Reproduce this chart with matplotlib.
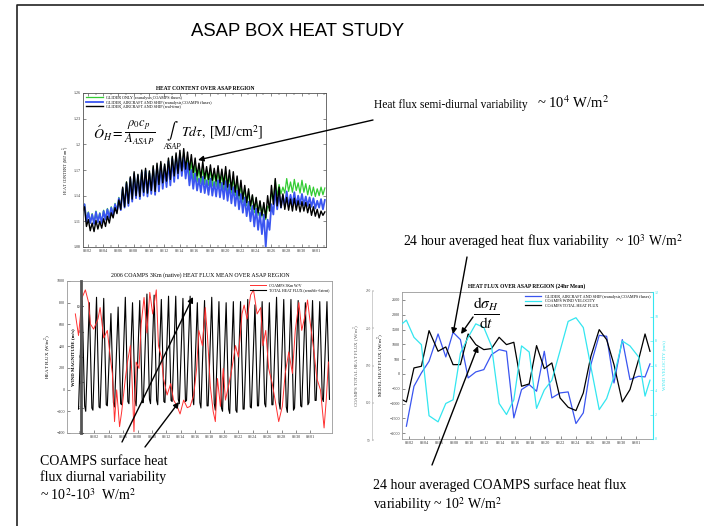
import numpy as np
import matplotlib.pyplot as plt

plt.rcParams['font.family'] = ['Liberation Serif', 'DejaVu Serif']
plt.rcParams['mathtext.fontset'] = 'stix'

W, H = 704, 526  # figure size in pixels

# shared date axis (day of August; 32 = 09/01)
tick_days = [2, 4, 6, 8, 10, 12, 14, 16, 18, 20, 22, 24, 26, 28, 30, 32]
tick_labels = ['08/02', '08/04', '08/06', '08/08', '08/10', '08/12', '08/14', '08/16',
               '08/18', '08/20', '08/22', '08/24', '08/26', '08/28', '08/30', '09/01']

# ---- heat content (MJ/cm2), semi-diurnal troughs and peaks ----
hc_trough_days = np.arange(64) * 0.5 + 1.3
hc_peak_days = hc_trough_days + 0.25
black_troughs = [1.122, 1.104, 1.099, 1.098, 1.101, 1.102, 1.104, 1.108, 1.114, 1.119,
                 1.124, 1.127, 1.131, 1.136, 1.140, 1.139, 1.144, 1.143, 1.146, 1.145,
                 1.153, 1.155, 1.157, 1.159, 1.163, 1.166, 1.169, 1.171, 1.170, 1.167,
                 1.163, 1.161, 1.160, 1.159, 1.158, 1.157, 1.155, 1.153, 1.150, 1.147,
                 1.144, 1.140, 1.136, 1.132, 1.128, 1.124, 1.120, 1.117, 1.114, 1.122,
                 1.130, 1.128, 1.126, 1.124, 1.123, 1.122, 1.123, 1.121, 1.122, 1.120,
                 1.117, 1.116, 1.114, 1.117]
black_peaks = [1.127, 1.112, 1.108, 1.111, 1.110, 1.113, 1.116, 1.120, 1.126, 1.135,
               1.150, 1.156, 1.162, 1.168, 1.165, 1.170, 1.172, 1.169, 1.175, 1.178,
               1.180, 1.177, 1.184, 1.186, 1.190, 1.193, 1.195, 1.191, 1.188, 1.184,
               1.178, 1.180, 1.174, 1.176, 1.172, 1.175, 1.171, 1.174, 1.170, 1.168,
               1.163, 1.158, 1.152, 1.148, 1.141, 1.138, 1.134, 1.132, 1.140, 1.152,
               1.160, 1.150, 1.142, 1.138, 1.136, 1.137, 1.134, 1.133, 1.132, 1.130,
               1.127, 1.124, 1.122, 1.121]
blue_troughs = [1.124, 1.110, 1.108, 1.107, 1.109, 1.108, 1.112, 1.114, 1.117, 1.121,
                1.123, 1.126, 1.128, 1.133, 1.137, 1.136, 1.140, 1.139, 1.142, 1.141,
                1.145, 1.148, 1.150, 1.152, 1.156, 1.160, 1.163, 1.160, 1.152, 1.148,
                1.146, 1.144, 1.143, 1.141, 1.140, 1.139, 1.138, 1.136, 1.134, 1.131,
                1.128, 1.124, 1.120, 1.116, 1.110, 1.104, 1.100, 1.095, 1.080, 1.100,
                1.118, 1.124, 1.126, 1.128, 1.127, 1.129, 1.128, 1.130, 1.129, 1.128,
                1.127, 1.125, 1.126, 1.124]
blue_peaks = [1.130, 1.120, 1.118, 1.121, 1.119, 1.122, 1.124, 1.126, 1.130, 1.137,
              1.148, 1.154, 1.160, 1.165, 1.163, 1.167, 1.169, 1.166, 1.171, 1.174,
              1.176, 1.174, 1.180, 1.183, 1.186, 1.188, 1.186, 1.178, 1.170, 1.166,
              1.160, 1.162, 1.158, 1.160, 1.156, 1.158, 1.155, 1.157, 1.153, 1.150,
              1.146, 1.142, 1.138, 1.133, 1.128, 1.125, 1.120, 1.118, 1.112, 1.130,
              1.148, 1.142, 1.140, 1.145, 1.141, 1.144, 1.140, 1.142, 1.139, 1.138,
              1.137, 1.134, 1.136, 1.135]
green_troughs = [1.124, 1.111, 1.109, 1.108, 1.110, 1.109, 1.113, 1.115, 1.118, 1.122,
                 1.125, 1.128, 1.131, 1.136, 1.140, 1.139, 1.143, 1.142, 1.145, 1.144,
                 1.148, 1.151, 1.154, 1.156, 1.160, 1.164, 1.167, 1.166, 1.162, 1.158,
                 1.156, 1.154, 1.153, 1.152, 1.151, 1.150, 1.149, 1.147, 1.145, 1.143,
                 1.140, 1.136, 1.132, 1.128, 1.124, 1.120, 1.117, 1.115, 1.112, 1.125,
                 1.136, 1.140, 1.142, 1.143, 1.145, 1.144, 1.146, 1.143, 1.144, 1.141,
                 1.140, 1.139, 1.140, 1.141]
green_peaks = [1.130, 1.121, 1.119, 1.122, 1.120, 1.123, 1.125, 1.127, 1.131, 1.138,
               1.149, 1.156, 1.161, 1.166, 1.164, 1.168, 1.170, 1.168, 1.173, 1.176,
               1.178, 1.176, 1.182, 1.185, 1.188, 1.190, 1.190, 1.185, 1.180, 1.176,
               1.172, 1.174, 1.170, 1.172, 1.168, 1.170, 1.166, 1.168, 1.164, 1.161,
               1.157, 1.153, 1.149, 1.145, 1.140, 1.137, 1.133, 1.130, 1.128, 1.142,
               1.158, 1.153, 1.150, 1.160, 1.156, 1.159, 1.155, 1.158, 1.154, 1.152,
               1.150, 1.148, 1.150, 1.149]

# ---- COAMPS 3km heat flux (W/m2), diurnal ----
flux_days = np.arange(35)
flux_low_am = [-180, -200, -190, -170, -150, -160, -140, -130, -150, -120, -130, -140,
               -120, -110, -130, -100, -140, -170, -150, -190, -200, -220, -210, -180,
               -170, -150, -160, -140, -180, -210, -170, -160, -120, -100, -110]
flux_peak = [820, 800, 850, 840, 700, 760, 850, 800, 820, 880, 870, 830, 860, 860, 840,
             860, 800, 820, 850, 810, 800, 810, 810, 830, 780, 810, 800, 850, 830, 830,
             820, 800, 820, 810, 810]
flux_low_pm = [-150, -170, -160, -140, -120, -130, -110, -100, -120, -90, -100, -110,
               -100, -90, -110, -80, -120, -150, -130, -170, -180, -190, -180, -160,
               -150, -130, -140, -120, -160, -190, -150, -140, -100, -80, -90]

# COAMPS 3km wind magnitude (m/s)
wind_days = [-0.64, -0.2, 0.3, 0.75, 1.2, 1.45, 1.9, 2.5, 2.8, 3.3, 3.8, 4.2, 4.5, 4.8,
             5.1, 5.5, 5.8, 6.3, 6.6, 7.0, 7.2, 7.5, 7.8, 8.2, 8.5, 8.9, 9.3, 9.7, 10.1,
             10.6, 10.9, 11.3, 11.6, 12.1, 12.6, 13.0, 13.5, 13.9, 14.4, 14.9, 15.3, 15.8,
             16.2, 16.5, 17.0, 17.4, 17.7, 18.1, 18.5, 18.8, 19.1, 19.5, 19.9, 20.2, 20.7,
             21.1, 21.6, 22.0, 22.5, 22.8, 23.2, 23.7, 24.1, 24.6, 25.1, 25.4, 25.8, 26.2,
             26.7, 27.1, 27.6, 28.1, 28.5, 29.0, 29.5, 29.9, 30.4, 30.8, 31.3, 31.6, 32.0,
             32.5, 32.9, 33.4, 33.9, 34.2, 34.5]
wind_speed = [9.4, 7.7, 10.7, 11.3, 10.3, 8.6, 8.2, 9.0, 9.9, 7.5, 8.1, 6.0, 4.7, 0.9,
              3.4, 0.5, 1.7, 4.3, 5.6, 6.9, 4.7, 0.1, 5.6, 5.1, 8.6, 10.7, 7.9, 11.1, 9.4,
              11.3, 6.9, 6.0, 4.3, 3.0, 3.9, 2.6, 2.1, 1.5, 2.6, 2.0, 2.1, 3.0,
              5.1, 8.1, 6.9, 9.9, 7.7, 3.7, 1.7, 0.9, 4.3, 2.1, 5.1, 2.6, 3.9,
              5.1, 6.9, 6.0, 9.4, 10.1, 9.0, 10.9, 11.3, 9.4, 9.9, 6.9, 8.1, 5.1,
              3.9, 2.6, 0.9, 2.1, 4.7, 6.4, 4.7, 8.1, 10.3, 8.1, 9.4, 10.5, 8.6,
              6.4, 4.3, 3.4, 0.4, 2.6, 5.6]

# ---- 24 hr means ----
mean_days = [1.07, 1.65, 2.65, 3.63, 4.64, 5.83, 6.85, 7.81, 8.78, 9.8, 10.81, 11.87,
             12.88, 13.89, 14.86, 15.83, 16.85, 17.86, 18.83, 19.85, 20.85, 21.93, 23.0,
             24.03, 25.0, 26.0, 27.1, 28.08, 29.05, 30.15, 31.16, 32.3, 33.15, 33.8]
mean_total_flux = [-867, -946, 203, 259, 1464, 766, 912, 315, 315, 1351, 991, 822, 856,
                   1239, 991, 1070, -417, -338, 957, 180, 372, -811, -1126, -1239, -642,
                   597, 1498, 1160, 315, -946, -529, 484, 1351, 766]
mean_glider_flux = [np.nan, -1768, -417, 34, 428, 1351, 574, 1408, 1160, -135, 68, 146,
                    653, 822, 766, -1486, -529, -360, -585, 766, -811, -642, -608, -1677,
                    -1317, 315, 1306, 1272, -304, 1160, -191, -79, -101, 338]
mean_wind = [9.4, 9.7, 8.3, 7.7, 1.9, 1.4, 2.9, 3.2, 7.0, 8.3, 9.4, 9.1, 7.6, 2.9, 2.0,
             3.2, 7.6, 7.1, 2.5, 4.0, 4.8, 7.2, 9.6, 9.9, 9.1, 5.9, 2.4, 3.3, 5.1, 8.0,
             7.6, 6.7, 3.5, 4.8]

GREEN = '#33cc33'
BLUE = '#3a55f0'
CYAN = '#33e6f0'
RED = '#ff3030'
FRAME = '#888888'


def ax_box(left, top, right, bottom):
    return [left / W, 1 - bottom / H, (right - left) / W, (bottom - top) / H]


def style(ax, color=FRAME):
    for s in ax.spines.values():
        s.set_color(color)
        s.set_linewidth(0.6)
    ax.tick_params(direction='in', length=2, width=0.4, labelsize=3, pad=1.5,
                   colors='#333333')
    ax.set_xticks(tick_days)
    ax.set_xticklabels(tick_labels)


fig = plt.figure(figsize=(W / 100, H / 100), dpi=100)

# ---------- heat content ----------
ax1 = fig.add_axes(ax_box(83, 93, 326, 247))
style(ax1, '#555555')
for troughs, peaks, c, lw in [(green_troughs, green_peaks, GREEN, 0.9),
                              (blue_troughs, blue_peaks, BLUE, 1.3),
                              (black_troughs, black_peaks, 'black', 1.0)]:
    t = np.ravel(np.column_stack([hc_trough_days, hc_peak_days]))
    v = np.ravel(np.column_stack([troughs, peaks]))
    ax1.plot(t, v, color=c, lw=lw)
ax1.set_xlim(1.35, 33.2)
ax1.set_ylim(1.08, 1.26)
ax1.set_yticks([1.08, 1.11, 1.14, 1.17, 1.2, 1.23, 1.26])
ax1.set_yticklabels(['1.08', '1.11', '1.14', '1.17', '1.2', '1.23', '1.26'])
ax1.set_xticks(range(2, 34), minor=True)
ax1.tick_params(which='minor', direction='in', length=1.2, width=0.3)
ax1.tick_params(which='both', top=True, right=True)
ax1.set_ylabel('HEAT CONTENT (MJ/cm$^2$)', fontsize=3, labelpad=1)
ax1.legend(['GLIDER ONLY (reanalysis,COAMPS fluxes)',
            'GLIDER, AIRCRAFT AND SHIP (reanalysis,COAMPS fluxes)',
            'GLIDER, AIRCRAFT AND SHIP (real-time)'],
           loc='upper left', fontsize=3, frameon=False, handlelength=4,
           borderaxespad=0.3, labelspacing=0.1)

# ---------- COAMPS 3km heat flux ----------
ax2 = fig.add_axes(ax_box(67, 281, 332, 433))
style(ax2, '#999999')
ft = np.ravel(np.column_stack([flux_days - 0.2, flux_days + 0.3, flux_days + 0.65]))
fv = np.ravel(np.column_stack([flux_low_am, flux_peak, flux_low_pm]))
l_flux, = ax2.plot(ft, fv, color='black', lw=0.8)
ax2.set_xlim(-1.8, 35.0)
ax2.set_ylim(-400, 1000)
ax2.set_yticks(range(-400, 1001, 200))
ax2.set_ylabel('HEAT FLUX (W/m$^2$)', fontsize=3.5, labelpad=2)
ax2w = ax2.twinx()
l_wind, = ax2w.plot(wind_days, wind_speed, color=RED, lw=0.7)
ax2w.set_ylim(0, 12)
ax2w.set_yticks([0, 2, 4, 6, 8, 10])
ax2w.yaxis.set_ticks_position('left')
ax2w.yaxis.set_label_position('left')
ax2w.spines['left'].set_position(('data', 0.2))
ax2w.spines['left'].set_linewidth(2)
ax2w.spines['left'].set_color('#555555')
ax2w.spines['right'].set_visible(False)
ax2w.spines['top'].set_visible(False)
ax2w.spines['bottom'].set_visible(False)
ax2w.tick_params(direction='in', length=1.5, labelsize=2.5, pad=0.5)
ax2w.set_ylabel('WIND MAGNITUDE (m/s)', fontsize=3.5, fontweight='bold')
ax2w.yaxis.set_label_coords(0.03, 0.5)
ax2w.legend([l_wind, l_flux], ['COAMPS 3Km W/V', 'TOTAL HEAT FLUX (sensible+latent)'],
            loc='upper right', fontsize=2.8, frameon=False, handlelength=4,
            borderaxespad=0.3, labelspacing=0.1)

# ---------- 24 hr mean heat flux ----------
ax3 = fig.add_axes(ax_box(402, 292, 653, 439))
style(ax3, '#999999')
l_glider, = ax3.plot(mean_days, mean_glider_flux, color=BLUE, lw=0.9)
l_total, = ax3.plot(mean_days, mean_total_flux, color='black', lw=0.9)
ax3.set_xlim(1.07, 34.2)
ax3.set_ylim(-2200, 2770)
ax3.set_yticks(range(-2000, 2501, 500))
ax3.set_ylabel('MODEL HEAT FLUX (W/m$^2$)', fontsize=3.5, labelpad=2)
ax3w = ax3.twinx()
l_vel, = ax3w.plot(mean_days, mean_wind, color=CYAN, lw=0.9)
ax3w.set_ylim(0, 12)
ax3w.set_yticks(range(0, 13, 2))
for s in ax3w.spines.values():
    s.set_visible(False)
ax3w.spines['right'].set_visible(True)
ax3w.spines['right'].set_color(CYAN)
ax3w.spines['right'].set_linewidth(0.8)
ax3w.tick_params(direction='in', length=2, width=0.4, labelsize=3, pad=1.5,
                 colors=CYAN)
ax3w.set_ylabel('WIND VELOCITY (m/s)', fontsize=3.5, color=CYAN, labelpad=2)
ax3w.legend([l_glider, l_vel, l_total],
            ['GLIDER, AIRCRAFT AND SHIP (reanalysis,COAMPS fluxes)',
             'COAMPS WIND VELOCITY', 'COAMPS TOTAL HEAT FLUX'],
            loc='upper right', fontsize=3, frameon=False, handlelength=4,
            borderaxespad=0.3, labelspacing=0.1)

# stray axis left of the 24 hr panel
ax3c = fig.add_axes(ax_box(372, 291, 373, 440))
ax3c.set_ylim(50, 250)
ax3c.set_yticks([50, 100, 150, 200, 250])
ax3c.set_xticks([])
for s in ['top', 'right', 'bottom']:
    ax3c.spines[s].set_visible(False)
ax3c.spines['left'].set_color('#bbbbbb')
ax3c.spines['left'].set_linewidth(0.5)
ax3c.tick_params(direction='in', length=1.5, width=0.3, labelsize=2.5, pad=1,
                 colors='#555555')
ax3c.set_ylabel('COAMPS TOTAL HEAT FLUX (W/m$^2$)', fontsize=3.5, labelpad=2,
                color='#555555')

# ---------- slide overlay: frame, titles, annotations ----------
ov = fig.add_axes([0, 0, 1, 1], zorder=10)
ov.set_xlim(0, W)
ov.set_ylim(H, 0)
ov.axis('off')
ov.patch.set_alpha(0)
ov.plot([17, 17, W + 5], [H + 5, 5, 5], color='#222222', lw=1.2)

ov.text(298, 31, 'ASAP BOX HEAT STUDY', ha='center', va='center', fontsize=13.3,
        family='Liberation Sans')
ov.text(205, 88, 'HEAT CONTENT OVER ASAP REGION', ha='center', va='center',
        fontsize=4, fontweight='bold')
ov.text(200, 275, '2006 COAMPS 3Km (native) HEAT FLUX MEAN OVER ASAP REGION',
        ha='center', va='center', fontsize=4.2)
ov.text(527, 286, 'HEAT FLUX OVER ASAP REGION (24hr Mean)', ha='center',
        va='center', fontsize=4, fontweight='bold')

# heat content formula, set piece by piece
ov.text(93, 133, r'$\acute{O}_H =$', ha='left', va='center', fontsize=10)
ov.text(124, 133, r'$\dfrac{\rho_0 c_p}{A_{ASAP}}$', ha='left', va='center',
        fontsize=9)
ov.text(166, 131, r'$\int$', ha='left', va='center', fontsize=12)
ov.text(163, 147, 'ASAP', ha='left', va='center', fontsize=5.5, style='italic')
ov.text(181, 132, r'$Td\tau,$', ha='left', va='center', fontsize=10)
ov.text(209, 132, r'[MJ/cm$^2$]', ha='left', va='center', fontsize=10)

ov.text(374, 108, 'Heat flux semi-diurnal variability', fontsize=8.3)
ov.text(537, 108, r'~ 10$^4$ W/m$^2$', fontsize=10.5)
ov.text(403, 246, r'24 hour averaged heat flux variability  ~ 10$^3$ W/m$^2$',
        fontsize=9.8)
ov.text(486, 313, r'$\frac{\mathrm{d}\sigma_H}{\mathrm{d}t}$', ha='center',
        va='center', fontsize=16)
ov.text(40, 455, 'COAMPS surface heat\nflux diurnal variability\n'
        r'~ 10$^2$-10$^3$  W/m$^2$', va='top', fontsize=10, linespacing=1.25)
ov.text(373, 478, '24 hour averaged COAMPS surface heat flux\n'
        r'variability ~ 10$^2$ W/m$^2$', va='top', fontsize=10, linespacing=1.25)

arrows = [((373, 120), (198, 160)), ((467, 257), (453, 334)),
          ((473, 317), (461, 334)), ((432, 465), (478, 346)),
          ((122, 442), (193, 297)), ((145, 447), (179, 402))]
for tail, head in arrows:
    ov.annotate('', xy=head, xytext=tail,
                arrowprops=dict(arrowstyle='-|>', lw=1.0, color='black',
                                mutation_scale=8, shrinkA=0, shrinkB=0))

fig.savefig('out.png', dpi=100)
